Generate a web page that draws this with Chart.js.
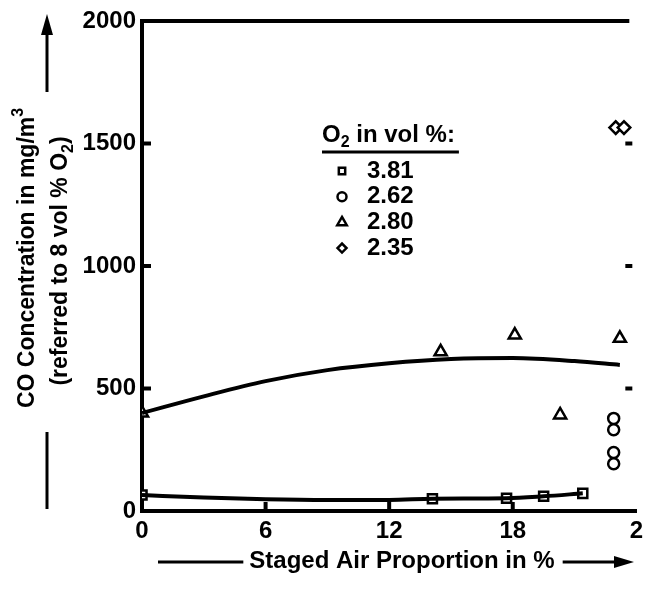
<!DOCTYPE html>
<html>
<head>
<meta charset="utf-8">
<script src="https://cdn.jsdelivr.net/npm/chart.js@4/dist/chart.umd.min.js"></script>
<style>
  html, body { margin: 0; padding: 0; background: #fff; overflow: hidden; }
  #wrap { width: 649px; height: 589px; }
</style>
</head>
<body>
<div id="wrap"><canvas id="coChart" width="649" height="589"></canvas></div>
<script>
const xTickValues = [0, 6, 12, 18, 24];
const xTickLabels = ["0", "6", "12", "18", "2"];
const yTickValues = [0, 500, 1000, 1500, 2000];
const yTickLabels = ["0", "500", "1000", "1500", "2000"];

const legendLabels = ["3.81", "2.62", "2.80", "2.35"];

// O2 = 3.81 vol %
const squareX = [0, 14.1, 17.7, 19.5, 21.4];
const squareY = [65, 50, 52, 60, 72];
// O2 = 2.62 vol %
const circleX = [22.9, 22.9, 22.9, 22.9];
const circleY = [378, 332, 239, 193];
// O2 = 2.80 vol %
const triangleX = [0, 14.5, 18.1, 20.3, 23.2];
const triangleY = [400, 650, 718, 392, 705];
// O2 = 2.35 vol %
const diamondX = [23.0, 23.4];
const diamondY = [1565, 1565];

// trend curves drawn through the points
const lowCurveX = [0, 3, 6, 9, 12, 14.1, 17.7, 19.5, 21.4];
const lowCurveY = [65, 55, 48, 45, 45, 50, 52, 60, 72];
const highCurveX = [0, 3, 6, 9, 12, 15, 18, 21, 23.2];
const highCurveY = [400, 468, 530, 575, 603, 620, 624, 612, 596];

const FONT = "'Liberation Sans', Arial, Helvetica, sans-serif";

function toPoints(xs, ys) {
  return xs.map((x, i) => ({ x: x, y: ys[i] }));
}

function markerSet(label, xs, ys, style, radius) {
  return {
    label: label,
    data: toPoints(xs, ys),
    showLine: false,
    pointStyle: style,
    pointRadius: radius,
    pointBorderWidth: 2.5,
    pointBorderColor: "#000",
    pointBackgroundColor: "#fff"
  };
}

function curveSet(xs, ys) {
  return {
    data: toPoints(xs, ys),
    showLine: true,
    borderColor: "#000",
    borderWidth: 4,
    pointRadius: 0,
    tension: 0.4,
    cubicInterpolationMode: "monotone"
  };
}

// text pieces: [text, shift]  shift 1 = subscript, -1 = superscript
function drawRich(ctx, parts, x, y, size, doDraw) {
  let cx = x;
  parts.forEach(([t, s]) => {
    const fs = s ? Math.round(size * 0.68) : size;
    ctx.font = "bold " + fs + "px " + FONT;
    if (doDraw) ctx.fillText(t, cx, y + s * size * (s > 0 ? 0.32 : 0.4));
    cx += ctx.measureText(t).width;
  });
  return cx - x;
}

const overlayPlugin = {
  id: "overlay",
  afterDraw(chart) {
    const ctx = chart.ctx;
    const area = chart.chartArea;
    const xs = chart.scales.x;
    const ys = chart.scales.y;
    ctx.save();
    ctx.strokeStyle = "#000";
    ctx.fillStyle = "#000";
    ctx.lineCap = "butt";

    // top frame line
    ctx.lineWidth = 4;
    ctx.beginPath();
    ctx.moveTo(area.left - 2, area.top);
    ctx.lineTo(area.right - 7, area.top);
    ctx.stroke();

    // inner tick marks
    yTickValues.slice(1, -1).forEach(v => {
      const py = ys.getPixelForValue(v);
      ctx.beginPath();
      ctx.moveTo(area.left, py);
      ctx.lineTo(area.left + 9, py);
      ctx.stroke();
      ctx.beginPath();
      ctx.moveTo(area.right - 11, py);
      ctx.lineTo(area.right - 4, py);
      ctx.stroke();
    });
    xTickValues.slice(1, -1).forEach(v => {
      const px = xs.getPixelForValue(v);
      ctx.beginPath();
      ctx.moveTo(px, area.bottom);
      ctx.lineTo(px, area.bottom - 9);
      ctx.stroke();
    });

    // y axis title with arrow
    ctx.lineWidth = 3;
    ctx.beginPath();
    ctx.moveTo(47, 92);
    ctx.lineTo(47, 30);
    ctx.stroke();
    ctx.beginPath();
    ctx.moveTo(47, 14);
    ctx.lineTo(41, 35);
    ctx.lineTo(53, 35);
    ctx.closePath();
    ctx.fill();
    ctx.beginPath();
    ctx.moveTo(47, 432);
    ctx.lineTo(47, 509);
    ctx.stroke();

    const line1 = [["CO Concentration in mg/m", 0], ["3", -1]];
    const line2 = [["(referred to 8 vol % O", 0], ["2", 1], [")", 0]];
    ctx.textBaseline = "middle";
    ctx.textAlign = "left";
    [[line1, 28, 258], [line2, 61, 261]].forEach(([parts, cx, cy]) => {
      ctx.save();
      ctx.translate(cx, cy);
      ctx.rotate(-Math.PI / 2);
      const w = drawRich(ctx, parts, 0, 0, 23, false);
      drawRich(ctx, parts, -w / 2, 0, 23, true);
      ctx.restore();
    });

    // x axis title with arrow
    const xTitle = "Staged Air Proportion in %";
    ctx.font = "bold 24px " + FONT;
    const tw = ctx.measureText(xTitle).width;
    const tx = 402 - tw / 2;
    ctx.fillText(xTitle, tx, 561);
    ctx.lineWidth = 3;
    ctx.beginPath();
    ctx.moveTo(158, 562);
    ctx.lineTo(tx - 6, 562);
    ctx.stroke();
    ctx.beginPath();
    ctx.moveTo(tx + tw + 8, 562);
    ctx.lineTo(618, 562);
    ctx.stroke();
    ctx.beginPath();
    ctx.moveTo(634, 562);
    ctx.lineTo(614, 556);
    ctx.lineTo(614, 568);
    ctx.closePath();
    ctx.fill();

    // legend
    const lx = 322, ly = 135;
    const titleParts = [["O", 0], ["2", 1], [" in vol %:", 0]];
    const lw = drawRich(ctx, titleParts, lx, ly, 24, true);
    ctx.lineWidth = 3;
    ctx.beginPath();
    ctx.moveTo(lx, 152);
    ctx.lineTo(lx + lw + 4, 152);
    ctx.stroke();

    const markerSets = chart.data.datasets.filter(d => d.label);
    ctx.font = "bold 24px " + FONT;
    legendLabels.forEach((lab, i) => {
      const ds = markerSets[i];
      const rowY = 171 + i * 25.7;
      ctx.fillStyle = "#fff";
      ctx.strokeStyle = "#000";
      ctx.lineWidth = 2.5;
      Chart.helpers.drawPoint(ctx, {
        pointStyle: ds.pointStyle,
        radius: ds.pointStyle === "triangle" ? 5.5 : 4.5,
        rotation: 0,
        borderWidth: 2.5
      }, 342, rowY);
      ctx.fillStyle = "#000";
      ctx.fillText(lab, 367, rowY);
    });

    ctx.restore();
  }
};

new Chart(document.getElementById("coChart"), {
  type: "scatter",
  data: {
    datasets: [
      curveSet(lowCurveX, lowCurveY),
      curveSet(highCurveX, highCurveY),
      markerSet("3.81", squareX, squareY, "rect", 6.4),
      markerSet("2.62", circleX, circleY, "circle", 5.5),
      markerSet("2.80", triangleX, triangleY, "triangle", 7),
      markerSet("2.35", diamondX, diamondY, "rectRot", 6.3)
    ]
  },
  options: {
    responsive: false,
    animation: false,
    events: [],
    layout: { padding: { top: 21, right: 10, left: 0, bottom: 0 } },
    plugins: {
      legend: { display: false },
      tooltip: { enabled: false }
    },
    scales: {
      x: {
        type: "linear",
        min: 0,
        max: 24,
        afterBuildTicks: scale => {
          scale.ticks = xTickValues.map(v => ({ value: v }));
        },
        afterFit: scale => { scale.height = 78; },
        ticks: {
          autoSkip: false,
          maxRotation: 0,
          padding: 6,
          color: "#000",
          font: { family: FONT, size: 24, weight: "bold" },
          callback: (value, index) => xTickLabels[index]
        },
        grid: { display: true, drawOnChartArea: false, drawTicks: false },
        border: { display: true, width: 4, color: "#000" }
      },
      y: {
        min: 0,
        max: 2000,
        afterBuildTicks: scale => {
          scale.ticks = yTickValues.map(v => ({ value: v }));
        },
        afterFit: scale => { scale.width = 142; },
        ticks: {
          padding: 6,
          color: "#000",
          font: { family: FONT, size: 24, weight: "bold" },
          callback: (value, index) => yTickLabels[index]
        },
        grid: { display: true, drawOnChartArea: false, drawTicks: false },
        border: { display: true, width: 4, color: "#000" }
      }
    }
  },
  plugins: [overlayPlugin]
});
</script>
</body>
</html>
